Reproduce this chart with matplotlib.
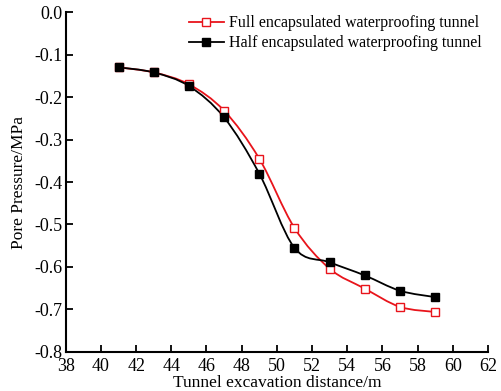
import matplotlib
matplotlib.use("Agg")
import matplotlib.pyplot as plt
from matplotlib.path import Path
from matplotlib.patches import PathPatch
import numpy as np

plt.rcParams['font.family'] = ['Liberation Serif', 'DejaVu Serif']
plt.rcParams['axes.unicode_minus'] = False

# Data
distance = [41, 43, 45, 47, 49, 51, 53, 55, 57, 59]
full_enc = [-0.130, -0.142, -0.170, -0.232, -0.345, -0.508, -0.604, -0.651, -0.694, -0.706]
half_enc = [-0.130, -0.142, -0.174, -0.248, -0.380, -0.555, -0.589, -0.620, -0.656, -0.671]

x_ticks = [38, 40, 42, 44, 46, 48, 50, 52, 54, 56, 58, 60, 62]
y_ticks = [-0.8, -0.7, -0.6, -0.5, -0.4, -0.3, -0.2, -0.1, 0.0]
y_tick_labels = ["-0.8", "-0.7", "-0.6", "-0.5", "-0.4", "-0.3", "-0.2", "-0.1", "0.0"]

full_label = "Full encapsulated waterproofing tunnel"
half_label = "Half encapsulated waterproofing tunnel"


def smooth_path(x, y):
    # Catmull-Rom through the points, drawn as cubic Bezier segments
    pts = np.column_stack([x, y]).astype(float)
    verts = [pts[0]]
    codes = [Path.MOVETO]
    n = len(pts)
    for i in range(n - 1):
        p0 = pts[i - 1] if i > 0 else pts[i]
        p1 = pts[i]
        p2 = pts[i + 1]
        p3 = pts[i + 2] if i + 2 < n else pts[i + 1]
        c1 = p1 + (p2 - p0) / 6.0
        c2 = p2 - (p3 - p1) / 6.0
        verts += [c1, c2, p2]
        codes += [Path.CURVE4] * 3
    return Path(verts, codes)


fig = plt.figure(figsize=(5.02, 3.91), dpi=100)
ax = fig.add_axes([0.131, 0.10, 0.841, 0.869])

red = '#e8141b'
ax.add_patch(PathPatch(smooth_path(distance, full_enc), facecolor='none',
                       edgecolor=red, lw=1.3))
ax.add_patch(PathPatch(smooth_path(distance, half_enc), facecolor='none',
                       edgecolor='black', lw=1.3))
ax.plot(distance, full_enc, ls='none', marker='s', ms=5.5, mfc='white',
        mec=red, mew=1.0)
ax.plot(distance, half_enc, ls='none', marker='s', ms=5.5, mfc='black',
        mec='black')

# legend handles
ax.plot([], [], color=red, lw=1.3, marker='s', ms=5.5, mfc='white',
        mec=red, label=full_label)
ax.plot([], [], color='black', lw=1.3, marker='s', ms=5.5, mfc='black',
        label=half_label)
ax.legend(loc='upper right', frameon=False, fontsize=11.5, handlelength=2.2,
          handletextpad=0.3, labelspacing=0.25, borderaxespad=0.0,
          bbox_to_anchor=(1.0, 1.01))

ax.set_xlim(38, 62)
ax.set_ylim(-0.8, 0.0)
ax.set_xticks(x_ticks)
ax.set_yticks(y_ticks)
ax.set_yticklabels(y_tick_labels)

for s in ['top', 'right']:
    ax.spines[s].set_visible(False)
for s in ['left', 'bottom']:
    ax.spines[s].set_linewidth(1.5)
ax.tick_params(direction='in', length=5, width=1.3, labelsize=13)
ax.tick_params(axis='x', pad=4.2)
ax.tick_params(axis='y', pad=2.5)

ax.set_xlabel("Tunnel excavation distance/m", fontsize=12.5, labelpad=0)
ax.set_ylabel("Pore Pressure/MPa", fontsize=12.5, labelpad=5)

fig.savefig("out.png", dpi=100)
